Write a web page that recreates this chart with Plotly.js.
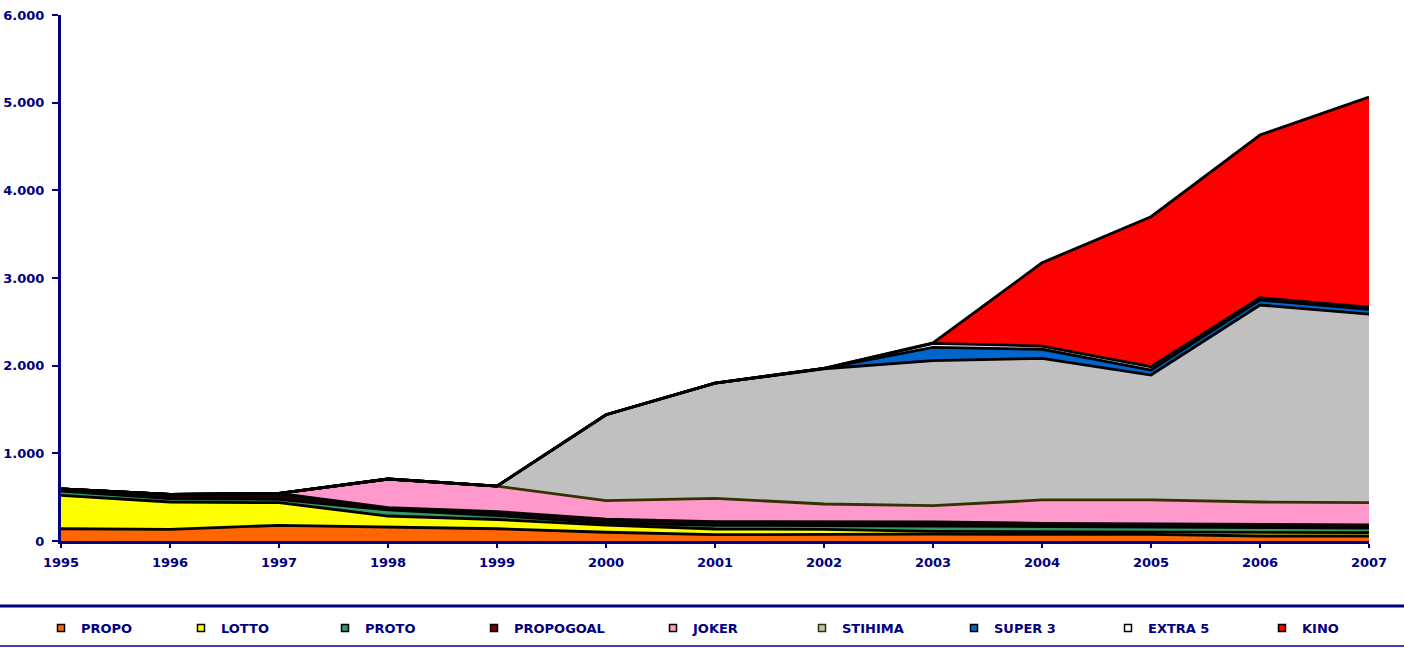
<!DOCTYPE html>
<html>
<head>
<meta charset="utf-8">
<script src="https://cdn.plot.ly/plotly-3.0.1.min.js"></script>
<style>
  html, body { margin: 0; padding: 0; background: #ffffff; }
  #chart { width: 1404px; height: 648px; }
</style>
</head>
<body>
<div id="chart"></div>
<script>
// ---- data ----
const years = [1995, 1996, 1997, 1998, 1999, 2000, 2001, 2002, 2003, 2004, 2005, 2006, 2007];

const PROPO     = [140, 133, 179, 163, 140, 100,  72,  76,  80,  75,  75,  57,  57];
const LOTTO     = [380, 312, 258, 122, 105,  80,  65,  57,  30,  30,  28,  38,  38];
const PROTO     = [ 50,  40,  38,  69,  46,  25,  42,  38,  61,  60,  55,  53,  53];
const PROPOGOAL = [ 25,  47,  69,  26,  45,  45,  41,  49,  46,  37,  36,  35,  35];
const JOKER     = [  0,   0,   0, 327, 290, 210, 267, 202, 186, 266, 274, 262, 254];
const STIHIMA   = [  0,   0,   0,   0,   0, 980,1313,1543,1654,1616,1425,2247,2152];
const SUPER3    = [  0,   0,   0,   0,   0,   0,   0,   5, 152, 103,  57,  57,  54];
const EXTRA5    = [  0,   0,   0,   0,   0,   0,   0,   0,  45,  37,  38,  26,  23];
const KINO      = [  0,   0,   0,   0,   0,   0,   0,   0,   5, 950,1711,1856,2398];

const seriesNames = ['PROPO', 'LOTTO', 'PROTO', 'PROPOGOAL', 'JOKER', 'STIHIMA', 'SUPER 3', 'EXTRA 5', 'KINO'];
const seriesValues = [PROPO, LOTTO, PROTO, PROPOGOAL, JOKER, STIHIMA, SUPER3, EXTRA5, KINO];

const yTickVals = [0, 1000, 2000, 3000, 4000, 5000, 6000];

// ---- styles ----
const fillColors   = ['#FF6600', '#FFFF00', '#339966', '#1E0000', '#FF99CC', '#C0C0C0', '#0066CC', '#E6E6FF', '#FF0000'];
const legendColors = ['#FF6600', '#FFFF00', '#339966', '#800000', '#FF99CC', '#C0C0C0', '#0066CC', '#FFFFFF', '#FF0000'];
const edgeColors = ['#000000', '#000000', '#000000', '#000000', '#333300', '#000000', '#000000', '#000000', '#000000'];
const legendEdge = ['#000000', '#000000', '#000000', '#000000', '#000000', '#333300', '#000000', '#000000', '#000000'];
const NAVY = '#000080';
const FONT = 'DejaVu Sans, Liberation Sans, Arial, sans-serif';

// plot-area geometry (pixels)
const W = 1404, H = 648;
const M = { l: 61, r: 35, t: 15, b: 107, autoexpand: false };
const PW = W - M.l - M.r, PH = H - M.t - M.b;
const px2x = p => (p - M.l) / PW;
const py2y = p => (H - M.b - p) / PH;

const legendLeftPx = [41, 181, 325, 474, 653, 802, 954, 1108, 1262];

const traces = [];
seriesNames.forEach((name, i) => {
  traces.push({
    type: 'scatter',
    x: years,
    y: seriesValues[i],
    name: name,
    stackgroup: 'one',
    mode: 'lines',
    line: { color: edgeColors[i], width: 2.8, shape: 'linear' },
    fillcolor: fillColors[i],
    showlegend: false,
    hoverinfo: 'x+y+name'
  });
});
// legend entries (small squares like the original)
seriesNames.forEach((name, i) => {
  traces.push({
    type: 'scatter',
    x: [null],
    y: [null],
    name: name,
    mode: 'markers',
    marker: { symbol: 'square', size: 7, color: legendColors[i], line: { color: legendEdge[i], width: 1.5 } },
    showlegend: true,
    legend: i === 0 ? 'legend' : 'legend' + (i + 1),
    hoverinfo: 'skip'
  });
});

const layout = {
  width: W,
  height: H,
  margin: M,
  paper_bgcolor: '#ffffff',
  plot_bgcolor: '#ffffff',
  separators: ',.',
  showlegend: true,
  font: { family: FONT, color: NAVY, size: 12, weight: 700 },
  xaxis: {
    range: [1995, 2007],
    tickvals: years,
    tickformat: 'd',
    showgrid: false,
    zeroline: false,
    showline: true,
    linecolor: NAVY,
    linewidth: 3,
    ticks: 'outside',
    ticklen: 4,
    tickwidth: 2,
    tickcolor: NAVY,
    ticklabelstandoff: 3,
    tickfont: { family: FONT, size: 13, color: NAVY, weight: 700 },
    fixedrange: true
  },
  yaxis: {
    range: [0, 6000],
    tickvals: yTickVals,
    tickformat: ',d',
    showgrid: false,
    zeroline: false,
    showline: true,
    linecolor: NAVY,
    linewidth: 3,
    ticks: 'outside',
    ticklen: 6,
    tickwidth: 2,
    tickcolor: NAVY,
    ticklabelstandoff: 5,
    tickfont: { family: FONT, size: 13, color: NAVY, weight: 700 },
    fixedrange: true
  },
  shapes: [
    { type: 'line', xref: 'paper', yref: 'paper', x0: px2x(0), x1: px2x(W), y0: py2y(606), y1: py2y(606), line: { color: NAVY, width: 3 } },
    { type: 'line', xref: 'paper', yref: 'paper', x0: px2x(0), x1: px2x(W), y0: py2y(646), y1: py2y(646), line: { color: NAVY, width: 1.5 } }
  ]
};

legendLeftPx.forEach((lp, i) => {
  const key = i === 0 ? 'legend' : 'legend' + (i + 1);
  layout[key] = {
    x: px2x(lp),
    xanchor: 'left',
    y: py2y(628),
    yanchor: 'middle',
    orientation: 'h',
    bgcolor: 'rgba(0,0,0,0)',
    borderwidth: 0,
    itemwidth: 30,
    font: { family: FONT, size: 13, color: NAVY, weight: 700 }
  };
});

Plotly.newPlot('chart', traces, layout, { displayModeBar: false, staticPlot: true });
</script>
</body>
</html>
